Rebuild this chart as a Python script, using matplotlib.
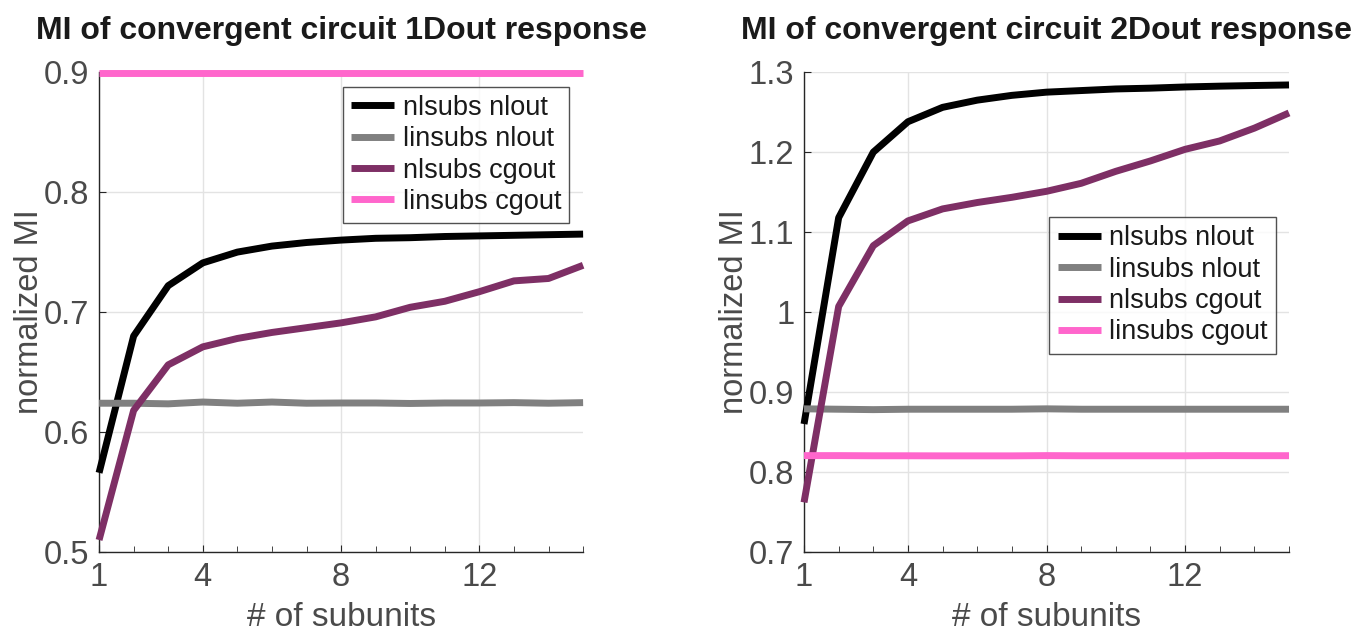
import matplotlib
matplotlib.use("Agg")
import matplotlib.pyplot as plt
from matplotlib.ticker import MultipleLocator

FONT = 'Liberation Sans'

x = list(range(1, 16))

# Left panel: 1Dout
left_nlsubs_nlout = [0.566, 0.680, 0.722, 0.741, 0.750, 0.755, 0.758, 0.760, 0.7615, 0.762, 0.763, 0.7635, 0.764, 0.7645, 0.765]
left_linsubs_nlout = [0.624, 0.624, 0.6235, 0.625, 0.624, 0.625, 0.624, 0.6242, 0.6242, 0.6238, 0.6242, 0.6242, 0.6245, 0.624, 0.6245]
left_nlsubs_cgout = [0.510, 0.618, 0.656, 0.671, 0.678, 0.683, 0.687, 0.691, 0.696, 0.704, 0.709, 0.717, 0.726, 0.728, 0.739]
left_linsubs_cgout = [0.8995] * 15

# Right panel: 2Dout
right_nlsubs_nlout = [0.860, 1.118, 1.200, 1.238, 1.256, 1.265, 1.271, 1.275, 1.277, 1.279, 1.280, 1.2815, 1.2825, 1.2833, 1.284]
right_linsubs_nlout = [0.879, 0.8785, 0.878, 0.8785, 0.8785, 0.8785, 0.8785, 0.879, 0.8785, 0.8785, 0.8785, 0.8785, 0.8785, 0.8785, 0.8785]
right_nlsubs_cgout = [0.762, 1.007, 1.083, 1.114, 1.129, 1.137, 1.1435, 1.151, 1.161, 1.176, 1.189, 1.2035, 1.214, 1.230, 1.249]
right_linsubs_cgout = [0.8205, 0.8205, 0.8203, 0.8203, 0.8202, 0.8202, 0.8202, 0.8205, 0.8203, 0.8203, 0.8203, 0.8203, 0.8205, 0.8204, 0.8204]

labels = ['nlsubs nlout', 'linsubs nlout', 'nlsubs cgout', 'linsubs cgout']
colors = ['#000000', '#808080', '#7e2f65', '#ff66cc']
xticks = [1, 4, 8, 12]

txtc = '#4a4a4a'
fig = plt.figure(figsize=(13.57, 6.33), dpi=100)

def setup(ax, series, title, ylim, yticks, ytl, legend_loc):
    for s, c, l in zip(series, colors, labels):
        ax.plot(x, s, color=c, lw=5, label=l, solid_capstyle='butt', clip_on=False, zorder=3)
    ax.set_xlim(1, 15)
    ax.set_ylim(*ylim)
    ax.set_xticks(xticks)
    ax.set_yticks(yticks)
    ax.set_yticklabels(ytl)
    ax.xaxis.set_minor_locator(MultipleLocator(1))
    for sp in ['top', 'right']:
        ax.spines[sp].set_visible(False)
    for sp in ['left', 'bottom']:
        ax.spines[sp].set_color('#262626')
        ax.spines[sp].set_linewidth(1.0)
    ax.tick_params(which='both', direction='in', colors='#262626', labelcolor=txtc,
                   labelsize=23.5, pad=7)
    ax.tick_params(which='major', length=5)
    ax.tick_params(which='minor', length=4)
    for lab in ax.get_xticklabels() + ax.get_yticklabels():
        lab.set_family(FONT)
    ax.grid(True, which='major', color='#e3e3e3', lw=1.0)
    ax.set_axisbelow(True)
    ax.set_title(title, fontsize=23, fontweight='bold', family=FONT, color='#1a1a1a', pad=24)
    ax.set_xlabel('# of subunits', fontsize=24, family=FONT, color=txtc, labelpad=7)
    ax.set_ylabel('normalized MI', fontsize=23.5, family=FONT, color=txtc, labelpad=-1)
    leg = ax.legend(loc='upper left', bbox_to_anchor=legend_loc, prop={'family': FONT, 'size': 19.5},
                    frameon=True, fancybox=False, edgecolor='#262626', handlelength=1.6,
                    handletextpad=0.3, borderpad=0.3, labelspacing=0.2, borderaxespad=0)
    leg.get_frame().set_linewidth(1.0)
    for t in leg.get_texts():
        t.set_color('#1a1a1a')
    return ax

ax1 = fig.add_axes([0.073, 0.128, 0.3567, 0.758])
setup(ax1, [left_nlsubs_nlout, left_linsubs_nlout, left_nlsubs_cgout, left_linsubs_cgout],
      'MI of convergent circuit 1Dout response', (0.5, 0.9),
      [0.5, 0.6, 0.7, 0.8, 0.9], ['0.5', '0.6', '0.7', '0.8', '0.9'], (0.504, 0.97))

ax2 = fig.add_axes([0.5925, 0.128, 0.3574, 0.758])
setup(ax2, [right_nlsubs_nlout, right_linsubs_nlout, right_nlsubs_cgout, right_linsubs_cgout],
      'MI of convergent circuit 2Dout response', (0.7, 1.3),
      [0.7, 0.8, 0.9, 1.0, 1.1, 1.2, 1.3], ['0.7', '0.8', '0.9', '1', '1.1', '1.2', '1.3'], (0.506, 0.698))

fig.savefig('out.png', dpi=100)
